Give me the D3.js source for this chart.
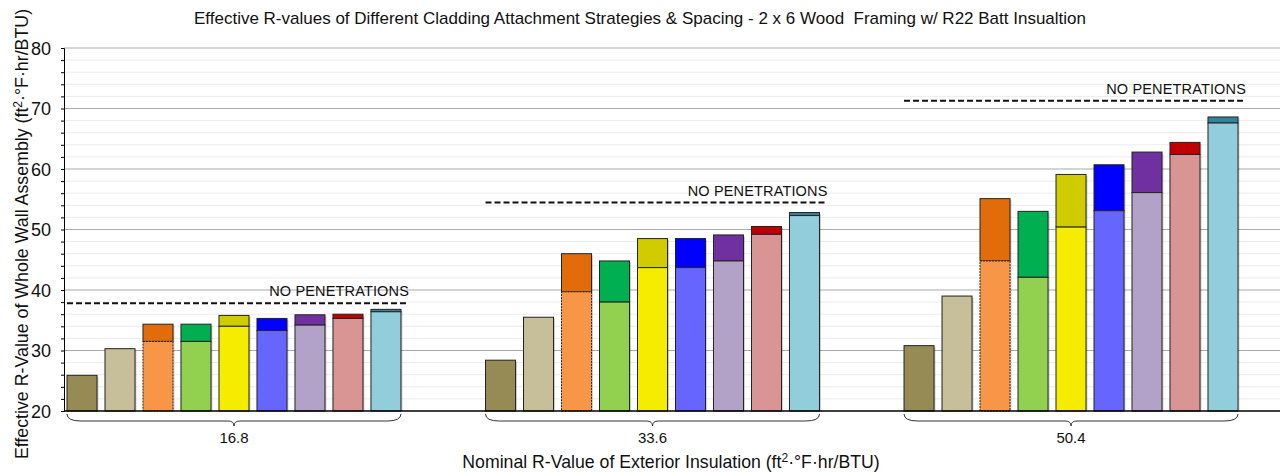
<!DOCTYPE html>
<head>
  <meta charset="utf-8">
  <script src="https://d3js.org/d3.v7.min.js"></script>
  <style>
    body { margin:0; background:#fff; }
    text { font-family: "Liberation Sans", Arial, sans-serif; fill:#111; }
  </style>
</head>
<body>
<script>
  // data
  var groups = ["16.8", "33.6", "50.4"];
  var strategies = ["s1","s2","s3","s4","s5","s6","s7","s8","s9"];
  var baseValues = [
    [25.9, 30.3, 31.5, 31.5, 34.0, 33.3, 34.2, 35.3, 36.4],
    [28.4, 35.5, 39.7, 38.0, 43.7, 43.7, 44.8, 49.2, 52.3],
    [30.8, 39.0, 44.8, 42.1, 50.4, 53.1, 56.1, 62.4, 67.6]
  ];
  var totalValues = [
    [25.9, 30.3, 34.35, 34.35, 35.8, 35.3, 35.9, 36.0, 36.8],
    [28.4, 35.5, 46.0, 44.8, 48.5, 48.5, 49.1, 50.5, 52.8],
    [30.8, 39.0, 55.1, 53.0, 59.1, 60.7, 62.8, 64.4, 68.6]
  ];
  var noPenetrations = [37.8, 54.45, 71.3];
  var yTicks = [20, 30, 40, 50, 60, 70, 80];

  var baseColors = ["#968b55","#c6bf9a","#f79646","#92d050","#f5ec00","#6666ff","#b2a2c7","#d99594","#92cddc"];
  var topColors  = ["#968b55","#c6bf9a","#e36c0a","#00b050","#d0cc00","#0000ff","#7030a0","#c00000","#31849b"];

  var W = 1281, H = 472;
  var svg = d3.select("body").append("svg")
    .attr("width", W).attr("height", H);

  var y = d3.scaleLinear().domain([20, 80]).range([411, 48]);
  var x0 = d3.scaleBand().domain(groups).range([67, 1238]).paddingInner(0.202);
  var x1 = d3.scaleBand().domain(strategies).range([0, x0.bandwidth()]).paddingInner(0.21);

  var axisX = 64, right = 1280;

  // gridlines
  svg.append("g").selectAll("line.minor")
    .data(d3.range(22, 80, 2).filter(function(v){ return v % 10 != 0; }))
    .enter().append("line")
    .attr("x1", axisX).attr("x2", right)
    .attr("y1", function(d){ return y(d); }).attr("y2", function(d){ return y(d); })
    .attr("stroke", "#ececec").attr("stroke-width", 1);
  svg.append("g").selectAll("line.major")
    .data(yTicks.slice(1))
    .enter().append("line")
    .attr("x1", axisX).attr("x2", right)
    .attr("y1", function(d){ return y(d); }).attr("y2", function(d){ return y(d); })
    .attr("stroke", "#aaaaaa").attr("stroke-width", 1.2);

  // y axis
  var yAxis = svg.append("g")
    .attr("transform", "translate(" + axisX + ",0)")
    .call(d3.axisLeft(y).tickValues(d3.range(20, 81, 2)).tickSize(3).tickFormat(""));
  yAxis.select(".domain").attr("stroke", "#000");
  yAxis.selectAll(".tick line").attr("stroke", "#000");
  yAxis.selectAll(".tick").filter(function(d){ return d % 10 == 0; }).append("text")
    .attr("x", -13).attr("dy", "0.35em")
    .attr("text-anchor", "end")
    .style("font-size", "18px")
    .attr("fill", "#111")
    .text(function(d){ return d; });

  // bars
  var gGroups = svg.selectAll("g.grp")
    .data(groups)
    .enter().append("g")
    .attr("class", "grp")
    .attr("transform", function(d){ return "translate(" + x0(d) + ",0)"; });

  gGroups.each(function(g, gi) {
    var sel = d3.select(this);
    var bars = strategies.map(function(s, i) {
      return {s: s, i: i, base: baseValues[gi][i], total: totalValues[gi][i]};
    });
    // soft shadow
    sel.selectAll("rect.shadow").data(bars).enter().append("rect")
      .attr("x", function(d){ return x1(d.s) + 1.5; })
      .attr("y", function(d){ return y(d.total) + 1.5; })
      .attr("width", x1.bandwidth())
      .attr("height", function(d){ return y(20) - y(d.total) - 1.5; })
      .attr("fill", "#000").attr("opacity", 0.18);
    sel.selectAll("rect.top").data(bars.filter(function(d){ return d.total > d.base; }))
      .enter().append("rect")
      .attr("x", function(d){ return x1(d.s); })
      .attr("y", function(d){ return y(d.total); })
      .attr("width", x1.bandwidth())
      .attr("height", function(d){ return y(d.base) - y(d.total); })
      .attr("fill", function(d){ return topColors[d.i]; })
      .attr("stroke", "#222").attr("stroke-width", 1);
    sel.selectAll("rect.base").data(bars).enter().append("rect")
      .attr("x", function(d){ return x1(d.s); })
      .attr("y", function(d){ return y(d.base); })
      .attr("width", x1.bandwidth())
      .attr("height", function(d){ return y(20) - y(d.base); })
      .attr("fill", function(d){ return baseColors[d.i]; })
      .attr("stroke", "#222").attr("stroke-width", 1)
      .attr("stroke-dasharray", function(d){ return d.i == 2 ? "2,1" : null; });

    // no penetrations line
    var lx0 = 0, lx1 = x0.bandwidth() + 8;
    sel.append("line")
      .attr("x1", lx0).attr("x2", lx1)
      .attr("y1", y(noPenetrations[gi])).attr("y2", y(noPenetrations[gi]))
      .attr("stroke", "#111").attr("stroke-width", 2)
      .attr("stroke-dasharray", "6,3");
    sel.append("text")
      .attr("x", lx1).attr("y", y(noPenetrations[gi]) - 7)
      .attr("text-anchor", "end")
      .style("font-size", "14.5px")
      .style("letter-spacing", "0.15px")
      .text("NO PENETRATIONS");

    // brace
    var bw = x0.bandwidth(), mid = bw / 2, yt = 414, yb = 421;
    sel.append("path")
      .attr("d", "M0," + yt + " Q0," + yb + " 14," + yb +
                 " L" + (mid - 6) + "," + yb + " Q" + mid + "," + yb + " " + mid + "," + (yb + 5) +
                 " Q" + mid + "," + yb + " " + (mid + 6) + "," + yb +
                 " L" + (bw - 14) + "," + yb + " Q" + bw + "," + yb + " " + bw + "," + yt)
      .attr("fill", "none").attr("stroke", "#333").attr("stroke-width", 1);
    sel.append("text")
      .attr("x", mid).attr("y", 443)
      .attr("text-anchor", "middle")
      .style("font-size", "15px")
      .text(g);
  });

  // x axis line
  svg.append("line")
    .attr("x1", axisX).attr("x2", right)
    .attr("y1", y(20)).attr("y2", y(20))
    .attr("stroke", "#000").attr("stroke-width", 1.3);

  // titles
  svg.append("text")
    .attr("x", 640).attr("y", 24)
    .attr("text-anchor", "middle")
    .style("font-size", "17px")
    .text("Effective R-values of Different Cladding Attachment Strategies & Spacing - 2 x 6 Wood\u00a0\u00a0Framing w/ R22 Batt Insualtion");

  var xl = svg.append("text")
    .attr("x", 671).attr("y", 468)
    .attr("text-anchor", "middle")
    .style("font-size", "17.7px");
  xl.append("tspan").text("Nominal R-Value of Exterior Insulation (ft");
  xl.append("tspan").attr("dy", -6).style("font-size", "12px").text("2");
  xl.append("tspan").attr("dy", 6).text("\u00b7\u00b0F\u00b7hr/BTU)");

  var yl = svg.append("text")
    .attr("transform", "translate(28,234) rotate(-90)")
    .attr("text-anchor", "middle")
    .style("font-size", "17.8px");
  yl.append("tspan").text("Effective R-Value of Whole Wall Assembly (ft");
  yl.append("tspan").attr("dy", -6).style("font-size", "12px").text("2");
  yl.append("tspan").attr("dy", 6).text("\u00b7\u00b0F\u00b7hr/BTU)");
</script>
</body>
